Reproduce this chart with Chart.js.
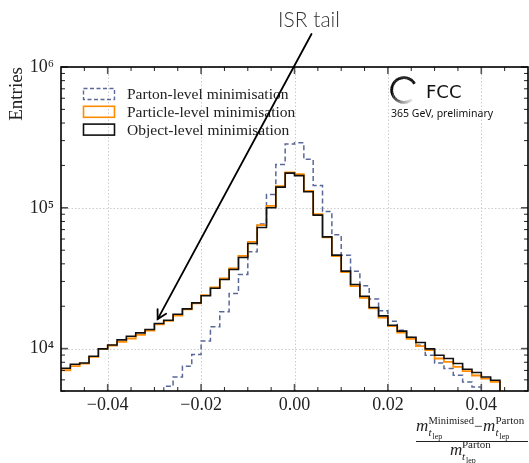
<!DOCTYPE html>
<html><head><meta charset="utf-8">
<script src="https://cdn.jsdelivr.net/npm/chart.js@4/dist/chart.umd.min.js"></script>
<style>html,body{margin:0;padding:0;background:#fff;}#wrap{width:529px;height:463px;}</style>
</head><body><div id="wrap"><canvas id="c" width="529" height="463"></canvas></div>
<script>
// bin edges of the histogram (left edges + final right edge)
const binEdges = [-0.050,-0.048,-0.046,-0.044,-0.042,-0.040,-0.038,-0.036,-0.034,-0.032,
  -0.030,-0.028,-0.026,-0.024,-0.022,-0.020,-0.018,-0.016,-0.014,-0.012,
  -0.010,-0.008,-0.006,-0.004,-0.002,0.000,0.002,0.004,0.006,0.008,
  0.010,0.012,0.014,0.016,0.018,0.020,0.022,0.024,0.026,0.028,
  0.030,0.032,0.034,0.036,0.038,0.040,0.042,0.044,0.046,0.048,0.050];

// entries per bin (null = below the visible range / empty)
const partonLevel = [null,null,null,null,null,null,null,null,null,null,
  null,5400,6290,7500,9080,11340,14270,18240,24640,33620,
  48650,76600,124500,203400,283700,289700,220800,144300,94200,64300,
  46100,35480,27900,22550,18540,15660,13520,11990,10570,8980,
  7910,7220,6470,5800,5340,null,null,null,null,null];
const particleLevel = [7020,7500,7830,8730,9950,10520,11160,11800,12510,13450,
  14900,15740,17180,18970,20930,23970,27170,31490,37080,45600,
  57300,75300,103300,142600,178500,173700,132100,90200,61600,45400,
  34910,27750,22910,19280,16630,14430,13010,11720,10400,9750,
  8510,8040,7410,6910,6440,6130,5800,null,null,null];
const objectLevel = [7260,7740,7910,8830,9950,10620,11530,12250,12940,13670,
  15070,15920,17550,19150,21130,23710,26850,30980,36500,44380,
  55840,72540,100000,140300,176400,169300,130000,88700,62200,46100,
  35480,28560,23560,19590,17070,14660,13300,12050,11050,9950,
  8980,8510,7830,7140,6760,6290,5960,null,null,null];

const seriesLabels = ['Parton-level minimisation','Particle-level minimisation','Object-level minimisation'];
const xTickValues = [-0.04,-0.02,0.00,0.02,0.04];
const yTickValues = [1e4,1e5,1e6];
const annotationText = 'ISR tail';
const annotationTarget = {x: -0.0293, y: 16200};

const COL_PARTON = '#5a6799', COL_PARTICLE = '#ff8c00', COL_OBJECT = '#111111';
const FLOOR = 1000; // drawing level for empty bins (off-scale, clipped)
const SERIF = '"Liberation Serif", "Times New Roman", serif';

function toPoints(vals){
  return binEdges.map((e,i)=>({x:e, y:(i<vals.length && vals[i]!=null)?vals[i]:FLOOR}));
}
const SUP = {'0':'\u2070','1':'\u00b9','2':'\u00b2','3':'\u00b3','4':'\u2074','5':'\u2075','6':'\u2076','7':'\u2077','8':'\u2078','9':'\u2079'};
function fmtX(v){ if (Math.abs(v)<1e-9) return '0.00'; return (v<0?'\u2212':'')+Math.abs(v).toFixed(2); }
function fmtY(v){ const e=String(Math.round(Math.log10(v))); return '10'+e.split('').map(c=>SUP[c]).join(''); }

const decor = {
  id:'decor',
  beforeDatasetsDraw(chart){
    const {ctx, chartArea:a, scales:{x,y}} = chart;
    ctx.save();
    ctx.strokeStyle='#cccccc'; ctx.lineWidth=1; ctx.setLineDash([1.5,2]);
    xTickValues.forEach(v=>{const p=Math.round(x.getPixelForValue(v))+0.5;ctx.beginPath();ctx.moveTo(p,a.top);ctx.lineTo(p,a.bottom);ctx.stroke();});
    yTickValues.forEach(v=>{const p=Math.round(y.getPixelForValue(v))+0.5;ctx.beginPath();ctx.moveTo(a.left,p);ctx.lineTo(a.right,p);ctx.stroke();});
    ctx.restore();
  },
  afterDatasetsDraw(chart){
    const {ctx, chartArea:a, scales:{x,y}} = chart;
    ctx.save();
    const tick=(x1,y1,x2,y2,major)=>{ctx.strokeStyle=major?'#555':'#222';ctx.lineWidth=major?1.6:1;ctx.beginPath();ctx.moveTo(x1,y1);ctx.lineTo(x2,y2);ctx.stroke();};
    for(let k=-9;k<=9;k++){
      const v=k*0.005, major=(k%4===0), L=major?7:4, p=x.getPixelForValue(v);
      tick(p,a.bottom,p,a.bottom-L,major); tick(p,a.top,p,a.top+L,major);
    }
    for(let d=3; d<=6; d++){
      for(let m=1;m<=9;m++){
        const v=m*Math.pow(10,d); if(v<y.min-1||v>y.max+1) continue;
        const major=(m===1), L=major?7:4, p=y.getPixelForValue(v);
        tick(a.left,p,a.left+L,p,major); tick(a.right,p,a.right-L,p,major);
      }
    }
    ctx.strokeStyle='#000'; ctx.lineWidth=1.6;
    ctx.strokeRect(a.left,a.top,a.right-a.left,a.bottom-a.top);
    ctx.restore();
  },
  afterDraw(chart){
    const {ctx, chartArea:a, scales:{x,y}} = chart;
    ctx.save();
    // legend
    const styles=[{c:COL_PARTON,d:[4,2.5],w:1.4},{c:COL_PARTICLE,d:[],w:1.6},{c:COL_OBJECT,d:[],w:1.6}];
    ctx.font='15.5px '+SERIF; ctx.textBaseline='alphabetic'; ctx.textAlign='left';
    seriesLabels.forEach((lab,i)=>{
      const cy=94+i*17.8;
      ctx.strokeStyle=styles[i].c; ctx.lineWidth=styles[i].w; ctx.setLineDash(styles[i].d);
      ctx.strokeRect(83.5,cy-5.5,31,11);
      ctx.setLineDash([]);
      ctx.fillStyle='#222'; ctx.fillText(lab,127,cy+5);
    });
    // FCC logo
    const cx=404, cyy=90, r=12.3;
    ctx.lineWidth=2.8; ctx.lineCap='butt';
    const a0=-31*Math.PI/180, a1=(360+51)*Math.PI/180; // going anticlockwise from a0 to 51deg
    const N=60;
    for(let i=0;i<N;i++){
      const t0=i/N, t1=(i+1)/N;
      const s=-31-(t0*(360-82)), e=-31-(t1*(360-82))-0.5;
      // fade along the bottom part
      const frac=t0; let g=0;
      if(frac>0.6){ g=Math.min(235,Math.round((frac-0.6)/0.4*235)); }
      ctx.strokeStyle=`rgb(${g},${g},${g})`;
      ctx.beginPath(); ctx.arc(cx,cyy,r,s*Math.PI/180,e*Math.PI/180,true); ctx.stroke();
    }
    ctx.fillStyle='#111'; ctx.font='18px "DejaVu Sans", sans-serif'; ctx.textBaseline='alphabetic';
    ctx.fillText('FCC',426,97.5);
    ctx.font='10.5px "Noto Sans", "Open Sans", sans-serif';
    ctx.fillText('365 GeV, preliminary',391,117);
    // x-axis label (fraction)
    ctx.fillStyle='#222';
    const it=(s)=>'italic '+s+'px '+SERIF, rm=(s)=>s+'px '+SERIF;
    const put=(txt,font,px,py)=>{ctx.font=font;ctx.fillText(txt,px,py);};
    put('m',it(17),416,431); put('Minimised',rm(10.5),428.5,424); put('t',it(11),428.5,435.5); put('lep',rm(8),432.5,438.5);
    put('\u2212',rm(15),474,431);
    put('m',it(17),483,431); put('Parton',rm(11),495.5,424); put('t',it(11),495.5,435.5); put('lep',rm(8),499.5,438.5);
    ctx.strokeStyle='#222'; ctx.lineWidth=1; ctx.beginPath(); ctx.moveTo(416,441.5); ctx.lineTo(528,441.5); ctx.stroke();
    put('m',it(17),450,455); put('Parton',rm(11),462,448); put('t',it(11),462,459.5); put('lep',rm(8),466,462.5);
    // annotation
    ctx.font='300 21px Lato, "Open Sans", sans-serif'; ctx.textAlign='center'; ctx.fillStyle='#333';
    ctx.fillText(annotationText,309,27);
    const sx=311.5, sy=34;
    const tx=x.getPixelForValue(annotationTarget.x), ty=y.getPixelForValue(annotationTarget.y);
    ctx.strokeStyle='#000'; ctx.lineWidth=1.8; ctx.lineCap='round';
    ctx.beginPath(); ctx.moveTo(sx,sy); ctx.lineTo(tx,ty); ctx.stroke();
    const ang=Math.atan2(sy-ty,sx-tx), hl=10, ha=29*Math.PI/180;
    ctx.beginPath();
    ctx.moveTo(tx+hl*Math.cos(ang+ha),ty+hl*Math.sin(ang+ha)); ctx.lineTo(tx,ty);
    ctx.lineTo(tx+hl*Math.cos(ang-ha),ty+hl*Math.sin(ang-ha)); ctx.stroke();
    ctx.restore();
  }
};

new Chart(document.getElementById('c'),{
  type:'line',
  data:{datasets:[
    {label:seriesLabels[0],data:toPoints(partonLevel),borderColor:COL_PARTON,borderWidth:1.5,borderDash:[5,3],stepped:true,pointRadius:0,fill:false,order:3},
    {label:seriesLabels[1],data:toPoints(particleLevel),borderColor:COL_PARTICLE,borderWidth:1.8,stepped:true,pointRadius:0,fill:false,order:2},
    {label:seriesLabels[2],data:toPoints(objectLevel),borderColor:COL_OBJECT,borderWidth:1.6,stepped:true,pointRadius:0,fill:false,order:1}
  ]},
  options:{
    responsive:false, animation:false, devicePixelRatio:1,
    layout:{padding:{top:67,right:1,left:0,bottom:0}},
    plugins:{legend:{display:false},tooltip:{enabled:false}},
    scales:{
      x:{type:'linear',position:'bottom',min:-0.05,max:0.05,
        afterBuildTicks:s=>{s.ticks=xTickValues.map(v=>({value:v}));},
        afterFit:s=>{s.height=72;},
        ticks:{callback:v=>fmtX(v),font:{family:'Liberation Serif',size:18},color:'#222',padding:3,maxRotation:0,autoSkip:false},
        grid:{display:false,drawTicks:false},border:{display:false}},
      y:{type:'logarithmic',position:'left',min:5000,max:1e6,
        afterBuildTicks:s=>{s.ticks=yTickValues.map(v=>({value:v}));},
        afterFit:s=>{s.width=61;},
        ticks:{callback:v=>fmtY(v),font:{family:'Liberation Serif',size:18},color:'#222',padding:7,autoSkip:false},
        title:{display:true,text:'Entries',align:'end',font:{family:'Liberation Serif',size:19},color:'#222',padding:{top:6,bottom:0}},
        grid:{display:false,drawTicks:false},border:{display:false}}
    }
  },
  plugins:[decor]
});
</script>
</body></html>
